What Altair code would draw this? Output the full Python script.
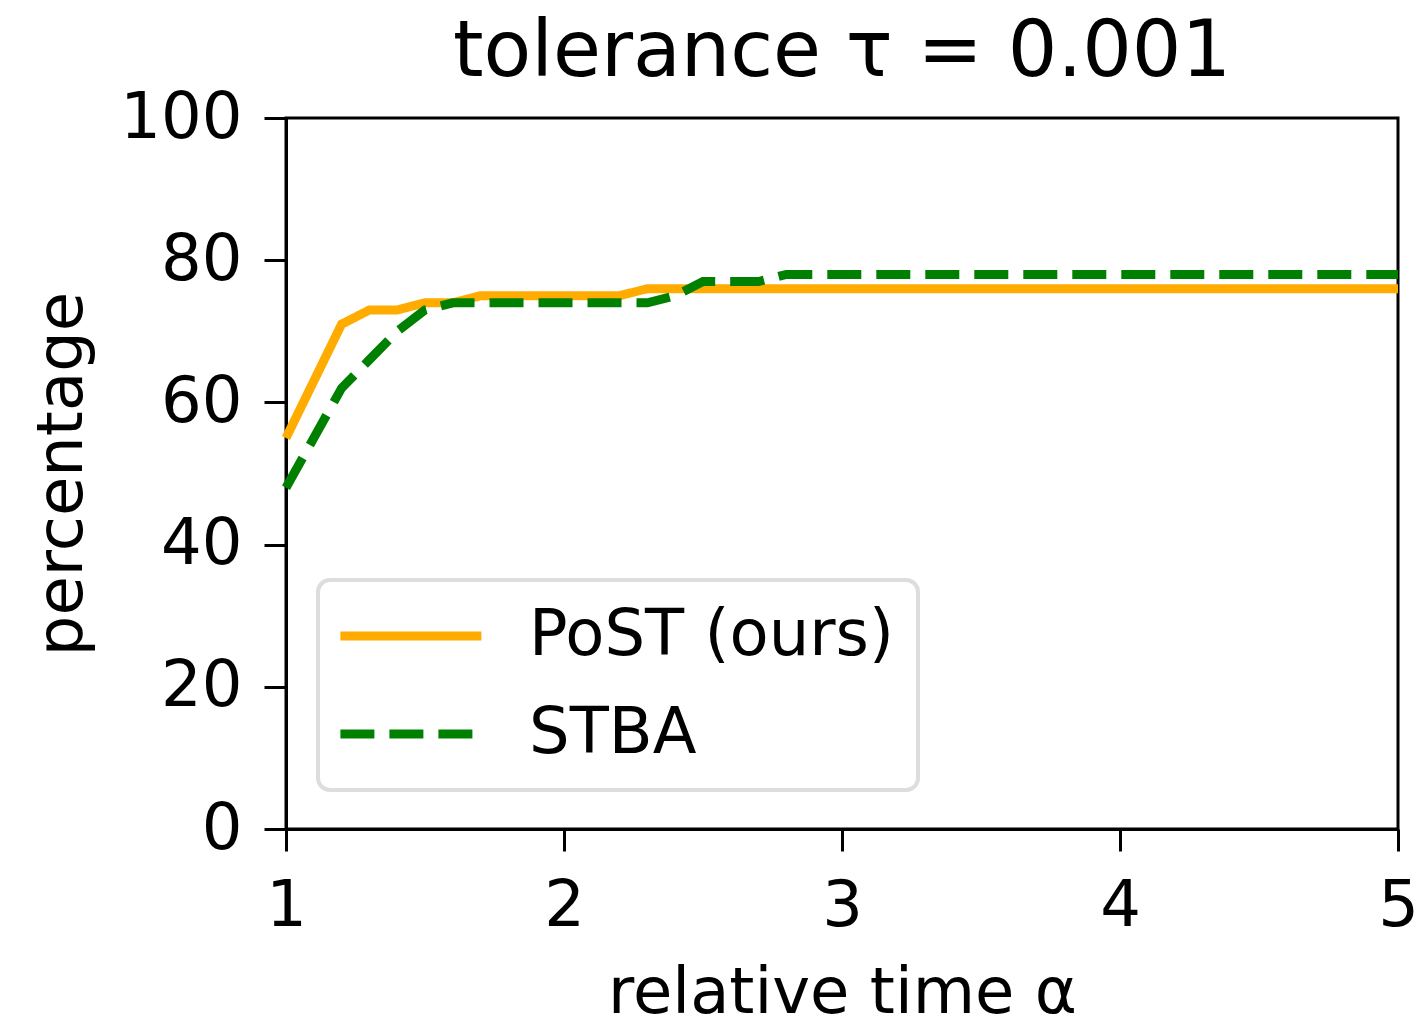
import altair as alt
import pandas as pd

alpha = [1.0, 1.1, 1.2, 1.3, 1.4, 1.5, 1.6, 1.7, 1.8, 1.9, 2.0, 2.1, 2.2, 2.3,
         2.4, 2.5, 2.6, 2.7, 2.8, 2.9, 3.0, 3.5, 4.0, 4.5, 5.0]
post = [55, 63, 71, 73, 73, 74, 74, 75, 75, 75, 75, 75, 75, 76,
        76, 76, 76, 76, 76, 76, 76, 76, 76, 76, 76]
stba = [48, 55, 62, 66, 70, 73, 74, 74, 74, 74, 74, 74, 74, 74,
        75, 77, 77, 77, 78, 78, 78, 78, 78, 78, 78]
series = ["PoST (ours)", "STBA"]
colors = ["#FFAB00", "#008000"]
dashes = [[1, 0], [34, 15]]

rows = []
for a, p, s in zip(alpha, post, stba):
    rows.append({"alpha": a, "pct": p, "method": series[0]})
    rows.append({"alpha": a, "pct": s, "method": series[1]})
df = pd.DataFrame(rows)

FONT = "DejaVu Sans"

leg = alt.Legend(orient="none", legendX=32, legendY=462)

chart = alt.Chart(df).mark_line(strokeWidth=9, strokeCap="butt").encode(
    x=alt.X("alpha:Q", title="relative time α",
            scale=alt.Scale(domain=[1, 5], nice=False),
            axis=alt.Axis(values=[1, 2, 3, 4, 5], format="d", labelFlush=False)),
    y=alt.Y("pct:Q", title="percentage",
            scale=alt.Scale(domain=[0, 100], nice=False),
            axis=alt.Axis(values=[0, 20, 40, 60, 80, 100], labelFlush=False)),
    color=alt.Color("method:N", title=None,
                    scale=alt.Scale(domain=series, range=colors), legend=leg),
    strokeDash=alt.StrokeDash("method:N", title=None,
                              scale=alt.Scale(domain=series, range=dashes), legend=leg),
    order=alt.Order("alpha:Q"),
).properties(
    width=1112, height=711,
    title=alt.TitleParams("tolerance τ = 0.001", fontSize=78, font=FONT,
                          fontWeight="normal", color="black", offset=-6),
    autosize=alt.AutoSizeParams(type="none"),
    padding={"left": 278, "top": 110, "right": 18, "bottom": 193},
).configure_view(
    stroke="black", strokeWidth=3
).configure_axis(
    grid=False, domainColor="black", domainWidth=3, tickColor="black",
    tickWidth=3, tickSize=22, labelFont=FONT, labelFontSize=64,
    labelColor="black", titleFont=FONT, titleFontSize=64,
    titleFontWeight="normal", titleColor="black",
).configure_axisX(
    labelPadding=23, titlePadding=23
).configure_axisY(
    labelPadding=22, titlePadding=25
).configure_legend(
    symbolType="M-1.43,0H4.57", symbolSize=2209, symbolStrokeWidth=9,
    labelFont=FONT, labelFontSize=64, labelColor="black", labelOffset=123,
    padding=24, cornerRadius=12, strokeColor="#dddddd", strokeWidth=4,
    fillColor="white", rowPadding=34, labelLimit=0,
)

chart.save("out.html", embed_options={"renderer": "svg", "actions": False})
